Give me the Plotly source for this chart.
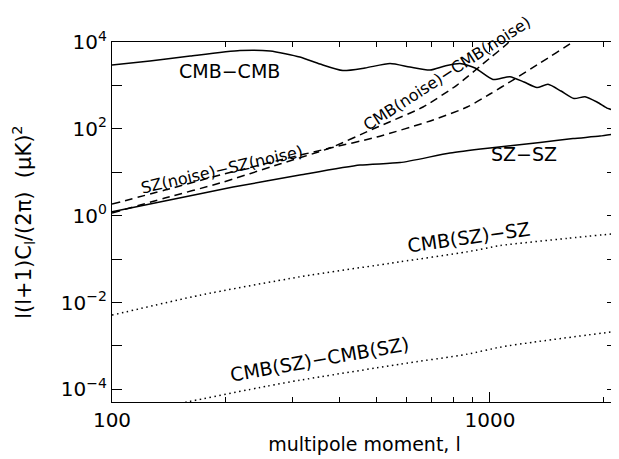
import math
import plotly.graph_objects as go

# ---- data ----
l_cmb = [100, 126, 161, 218, 262, 314, 355, 408, 467, 544, 614, 694, 760, 833, 913,
         1018, 1129, 1230, 1331, 1424, 1541, 1668, 1784, 1919, 2039, 2103, 2168]
cmb_cmb = [2950, 3650, 4760, 6370, 6200, 4510, 3110, 2200, 2520, 3200, 2650, 2260, 2800, 3200, 2520,
           1370, 1590, 1200, 895, 1060, 743, 499, 549, 415, 301, 271, 177]

l_sz = [100, 142, 209, 314, 453, 578, 784, 1000, 1356, 1658, 1954, 2168]
sz_sz = [1.24, 2.29, 4.56, 8.62, 14.65, 16.7, 27.7, 36.1, 48.3, 59.8, 68.2, 78.0]

l_cmbnoise = [100, 138, 193, 278, 377, 490, 544, 665, 818, 1000, 1109, 1143]
cmbnoise = [1.15, 2.55, 5.64, 15.5, 36.1, 98.9, 146, 318, 1021, 4278, 9000, 12370]

l_sznoise = [100, 138, 193, 278, 377, 502, 707, 870, 1000, 1150, 1356, 1658, 1730]
sznoise = [1.85, 3.89, 8.62, 19.1, 36.1, 64.7, 160, 318, 634, 1332, 3282, 10000, 13040]

l_cmbsz_sz = [100, 171, 314, 578, 870, 1063, 1598, 2168]
cmbsz_sz = [0.00513, 0.0148, 0.0391, 0.0867, 0.147, 0.205, 0.300, 0.391]

l_cmbsz_cmbsz = [147, 158, 257, 314, 578, 870, 1063, 1299, 2168]
cmbsz_cmbsz = [4.56e-5, 5.15e-5, 1.19e-4, 1.63e-4, 3.81e-4, 6.47e-4, 9.38e-4, 1.22e-3, 2.19e-3]

# curve labels: text, l position, value position, angle, size
label_text = ["CMB−CMB", "SZ−SZ", "SZ(noise)−SZ(noise)", "CMB(noise)−CMB(noise)",
              "CMB(SZ)−SZ", "CMB(SZ)−CMB(SZ)"]
label_l = [205, 1230, 196, 769, 879, 355]
label_v = [2150, 26.2, 11.6, 1930, 0.321, 4.97e-4]
label_angle = [0, 0, -13, -33, -8, -10]
label_size = [19, 19, 16, 16, 19, 19]

ytick_vals = [1e-4, 1e-3, 1e-2, 1e-1, 1, 10, 100, 1e3, 1e4]
ytick_text = ["10<sup>−4</sup>", "", "10<sup>−2</sup>", "", "10<sup>0</sup>", "",
              "10<sup>2</sup>", "", "10<sup>4</sup>"]
xtick_major = [100, 1000]
xtick_major_text = ["100", "1000"]
xtick_minor = [200, 300, 400, 500, 600, 700, 800, 900, 2000]

FONT = "DejaVu Sans"
fig = go.Figure()

def add(x, y, dash):
    fig.add_trace(go.Scatter(x=x, y=y, mode="lines",
                             line=dict(color="black", width=1.5, dash=dash, shape="spline", smoothing=0.6),
                             showlegend=False, hoverinfo="skip"))

add(l_cmb, cmb_cmb, "solid")
add(l_sz, sz_sz, "solid")
add(l_cmbnoise, cmbnoise, "8px,5px")
add(l_sznoise, sznoise, "8px,5px")
add(l_cmbsz_sz, cmbsz_sz, "1.5px,3.5px")
add(l_cmbsz_cmbsz, cmbsz_cmbsz, "1.5px,3.5px")

for txt, x, y, ang, sz in zip(label_text, label_l, label_v, label_angle, label_size):
    fig.add_annotation(x=math.log10(x), y=math.log10(y), text=txt,
                       showarrow=False, textangle=ang,
                       font=dict(family=FONT, size=sz, color="black"))

fig.update_layout(
    width=619, height=459,
    margin=dict(l=104, r=10, t=34, b=65),
    paper_bgcolor="white", plot_bgcolor="white",
    font=dict(family=FONT, size=18, color="black"),
    xaxis=dict(type="log", range=[2, 3.336], showgrid=False, zeroline=False,
               showline=True, linecolor="black", linewidth=1.2, mirror="ticks",
               ticks="inside", ticklen=10, tickwidth=1, tickcolor="black",
               tickmode="array", tickvals=xtick_major, ticktext=xtick_major_text,
               tickfont=dict(size=20),
               minor=dict(tickmode="array", tickvals=xtick_minor, ticks="inside",
                          ticklen=5, tickwidth=1, tickcolor="black", showgrid=False),
               title=dict(text="multipole moment, l", font=dict(size=19), standoff=6)),
    yaxis=dict(type="log", range=[-4.29, 4], showgrid=False, zeroline=False,
               showline=True, linecolor="black", linewidth=1.2, mirror="ticks",
               ticks="inside", ticklen=10, tickwidth=1, tickcolor="black",
               tickmode="array", tickvals=ytick_vals, ticktext=ytick_text,
               tickfont=dict(size=20),
               title=dict(text="l(l+1)C<sub>l</sub>/(2π)  (μK)<sup>2</sup>", font=dict(size=21), standoff=24)),
)

fig.write_html("out.html")
